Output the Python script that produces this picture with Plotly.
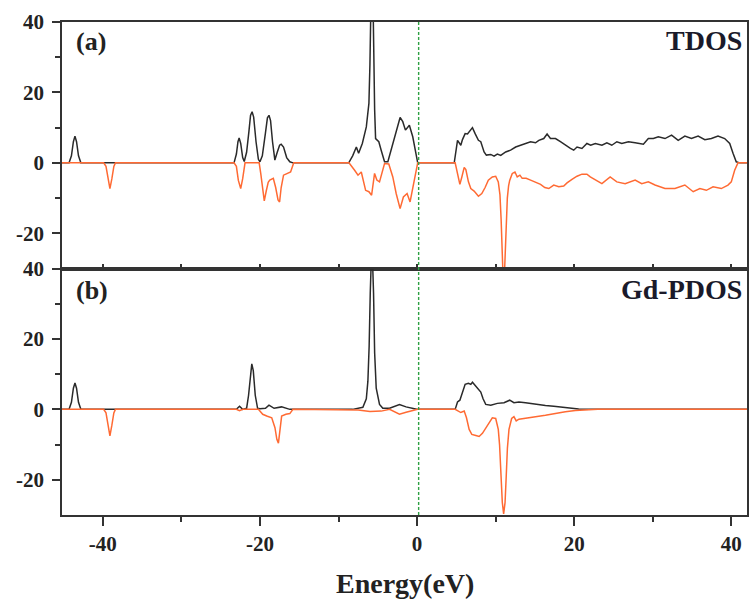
import plotly.graph_objects as go
from plotly.subplots import make_subplots

# ---------------- data ----------------
tdos_up_E = [-45.2, -44.3, -44.0, -43.75, -43.55, -43.35, -43.1, -42.8,
             -23.3, -23.0, -22.8, -22.65, -22.45, -22.2, -22.0, -21.7, -21.4, -21.2, -21.0, -20.8, -20.5, -20.2,
             -20.0, -19.7, -19.3, -19.05, -18.85, -18.65, -18.4, -18.1, -17.8, -17.5, -17.3, -17.0, -16.6, -16.2, -15.8,
             -8.7, -8.2, -7.73, -7.44, -6.97, -6.46, -6.13, -6.0, -5.9, -5.75, -5.6, -5.5, -5.4, -5.28,
             -4.87, -4.57, -4.14, -3.72, -3.09, -2.66, -2.16, -1.82, -1.48, -0.98, -0.55, 0.08,
             4.73, 5.15, 5.36, 5.57, 5.78, 6.12, 6.42, 6.72, 7.05, 7.39, 7.81, 8.11, 8.53, 8.82, 9.38, 9.8,
             10.22, 10.65, 11.28, 11.91, 12.55, 13.18, 13.81, 14.45, 15.08, 15.5, 16.13, 16.55, 16.98, 17.62,
             18.25, 18.88, 19.52, 19.94, 20.36, 20.99, 21.62, 22.1, 22.69, 23.53, 24.16, 24.79, 25.43, 26.06,
             26.91, 27.76, 28.81, 29.44, 30.08, 30.71, 31.56, 32.4, 33.24, 34.09, 34.93, 35.78, 36.63, 37.47,
             38.31, 39.16, 39.8, 40.22, 40.63, 41.06, 42.0]
tdos_up_V = [0, 0, 2.0, 6.0, 7.6, 6.0, 2.0, 0,
             0, 2.5, 6.0, 7.1, 5.5, 1.5, 0.4, 3.0, 9.0, 13.5, 14.5, 13.0, 6.0, 1.0,
             0.3, 2.0, 8.5, 12.8, 13.5, 12.0, 6.0, 0.8, 3.0, 5.0, 5.3, 4.5, 1.5, 0.3, 0,
             0, 2.0, 4.5, 2.7, 5.5, 10.2, 16.9, 28, 45, 62, 45, 28, 15, 6.9,
             6.0, 3.6, 0.3, 0.3, 5.5, 8.4, 12.9, 11.7, 9.3, 10.7, 7.4, 0,
             0, 6.4, 5.5, 5.0, 6.6, 8.3, 8.2, 9.1, 10.0, 8.3, 6.4, 6.0, 3.1, 2.2, 2.4, 1.9,
             2.5, 2.1, 3.1, 3.6, 4.5, 5.0, 5.5, 6.0, 5.7, 6.4, 6.9, 8.2, 6.9, 6.9,
             6.0, 5.0, 4.1, 3.6, 4.5, 4.1, 5.5, 5.0, 5.5, 5.0, 5.7, 5.0, 6.0, 5.5,
             6.0, 5.7, 5.3, 6.9, 6.9, 7.4, 6.9, 7.9, 6.4, 7.6, 6.9, 7.6, 6.6, 6.9,
             7.6, 6.9, 5.5, 2.7, 0.3, 0, 0]

tdos_dn_E = [-45.2, -39.9, -39.6, -39.35, -39.1, -38.85, -38.6, -38.4,
             -23.3, -23.0, -22.75, -22.45, -22.2, -21.9, -20.1, -19.9, -19.65, -19.45, -19.2, -18.95, -18.75,
             -18.3, -18.0, -17.7, -17.5, -17.3, -17.0, -16.6, -16.1, -15.7,
             -8.67, -7.95, -7.52, -7.1, -6.55, -6.13, -5.79, -5.41, -5.12, -4.78, -4.44, -4.14, -3.6,
             -3.09, -2.66, -2.16, -1.74, -1.27, -0.89, -0.55, 0.08,
             4.85, 5.15, 5.45, 5.7, 6.0, 6.21, 6.54, 6.84, 7.26, 7.81, 8.24, 8.66, 9.07, 9.58, 10.01, 10.34,
             10.55, 10.7, 10.85, 11.0, 11.15, 11.3, 11.49, 11.65, 11.79, 12.12, 12.46, 12.75, 13.09, 13.38,
             13.89, 14.45, 15.08,
             15.72, 16.26, 16.77, 17.4, 18.04, 18.67, 19.09, 19.72, 20.36, 20.99, 21.62, 22.05, 22.69, 23.53,
             24.58, 25.43, 26.49, 27.76, 28.6, 29.44, 30.29, 31.56, 32.83, 34.09, 35.15, 36.0, 36.83, 37.68,
             38.73, 39.58, 40.0, 40.43, 40.85, 42.0]
tdos_dn_V = [0, 0, -1.0, -4.5, -7.3, -4.5, -1.0, 0,
             0, -1.0, -5.0, -7.3, -4.5, 0, 0, -3.0, -8.5, -10.8, -8.0, -5.5, -4.9,
             -4.4, -7.0, -10.5, -11.1, -7.0, -3.5, -3.0, -2.6, 0,
             0, -2.1, -3.5, -2.6, -7.8, -8.2, -9.2, -3.0, -4.9, -5.4, -2.6, -0.2, -0.3,
             -4.0, -8.7, -13.0, -9.7, -8.7, -11.1, -6.8, 0,
             0, -3.0, -6.1, -4.0, -1.3, -1.9, -5.4, -7.3, -8.0, -9.5, -8.7, -7.0, -4.9, -4.0, -3.8, -5.4,
             -9.0, -16.0, -27.0, -36.0, -30.0, -18.0, -10.0, -6.5, -5.0, -3.0, -2.6, -4.0, -3.5, -4.4,
             -4.4, -4.9, -5.4,
             -6.1, -7.0, -7.3, -6.3, -6.8, -6.6, -5.7, -4.7, -3.8, -3.2, -3.2, -4.0, -4.9, -5.9,
             -4.0, -5.4, -5.9, -4.9, -5.9, -5.4, -6.3, -7.3, -7.3, -6.3, -8.2, -7.3, -7.8, -6.8,
             -7.3, -6.3, -5.4, -2.1, 0, 0]

gd_up_E = [-45.2, -44.3, -44.0, -43.75, -43.55, -43.35, -43.1, -42.8,
           -23.0, -22.6, -22.2, -21.7, -21.45, -21.2, -21.04, -20.85, -20.6, -20.3, -20.0, -19.3, -18.85,
           -18.2, -17.25, -16.2,
           -8.2, -6.9, -6.46, -6.26, -6.1, -5.96, -5.75, -5.54, -5.4, -5.2, -4.78, -4.36, -3.5, -2.24, -1.4,
           -0.34, 0.08,
           4.85, 5.15, 5.45, 5.78, 6.12, 6.54, 6.84, 7.05, 7.48, 7.81, 8.11, 8.4, 8.74, 9.38, 10.22, 11.07,
           11.79, 12.33, 12.97, 13.81, 14.65, 15.5, 16.34, 17.4, 18.46, 19.52, 20.57, 28.0, 30.0, 42.0]
gd_up_V = [0, 0, 2.0, 6.0, 7.5, 6.0, 2.0, 0,
           0, 0.9, 0, 0.3, 4.0, 11.0, 12.9, 11.0, 4.0, 0.3, 0.2, 0.3, 1.2,
           0.3, 0.7, 0,
           0, 0.6, 3.0, 8.0, 18.0, 33, 48, 33, 16.0, 6.0, 1.4, 0.3, 0.3, 1.4, 0.7,
           0.2, 0,
           0, 2.1, 2.6, 4.7, 7.1, 7.4, 7.1, 7.7, 6.6, 5.7, 4.9, 3.0, 1.4, 1.2, 1.7, 1.9,
           2.6, 1.9, 2.1, 1.9, 1.6, 1.4, 1.1, 0.9, 0.7, 0.3, 0.1, 0.05, 0, 0]

gd_dn_E = [-45.2, -39.9, -39.6, -39.35, -39.1, -38.85, -38.6, -38.4,
           -23.0, -22.6, -22.2, -20.2, -19.65, -19.14, -18.5, -18.09, -17.85, -17.65, -17.45, -17.24,
           -16.7, -16.2, -15.8,
           -8.16, -7.5, -6.0, -5.0, -4.57, -3.5, -2.24, -1.4, -0.3, 0.08,
           4.85, 5.27, 5.57, 6.0, 6.29, 6.63, 6.97, 7.48, 7.9, 8.32, 8.74, 9.16, 9.58, 10.01, 10.34,
           10.5, 10.65, 10.85, 11.02, 11.2, 11.35, 11.5, 11.7, 12.04, 12.33, 12.62, 12.97, 13.81, 15.08, 16.34,
           17.62, 18.88, 20.15, 21.42, 23.0, 42.0]
gd_dn_V = [0, 0, -1.0, -4.5, -7.5, -4.5, -1.0, 0,
           0, -0.4, 0, 0, -1.4, -1.9, -2.4, -5.2, -8.5, -9.6, -5.2, -1.9,
           -1.4, -1.2, 0,
           0, -0.2, -0.6, -0.6, -0.5, 0, -1.4, -0.8, -0.3, 0,
           0, -0.5, -0.9, -0.5, -2.4, -5.7, -7.1, -7.4, -7.7, -6.8, -5.2, -3.6, -2.4, -2.6, -5.7,
           -10.0, -18.0, -26.4, -29.7, -26.5, -19.0, -11.0, -5.7, -2.6, -2.1, -3.3, -2.8, -2.6, -2.1, -1.7,
           -1.1, -0.7, -0.3, -0.1, 0, 0]

x_ticks = [-40, -20, 0, 20, 40]
x_ticktext = ["-40", "-20", "0", "20", "40"]
y_ticks = [-20, 0, 20, 40]
y_ticktext = ["-20", "0", "20", "40"]
fermi_E = 0.2
panel_labels = ["(a)", "(b)"]
panel_titles = ["TDOS", "Gd-PDOS"]

# ---------------- styles ----------------
BLACK = "#2a2a2a"
ORANGE = "#ff6a33"
GREEN = "#2ea043"
AX = "#333333"
FONT = "Liberation Serif"

fig = make_subplots(rows=2, cols=1, shared_xaxes=True, vertical_spacing=0.0)

for row, (ue, uv, de, dv) in enumerate([(tdos_up_E, tdos_up_V, tdos_dn_E, tdos_dn_V),
                                        (gd_up_E, gd_up_V, gd_dn_E, gd_dn_V)], start=1):
    fig.add_trace(go.Scatter(x=ue, y=uv, mode="lines",
                             line=dict(color=BLACK, width=1.5),
                             showlegend=False), row=row, col=1)
    fig.add_trace(go.Scatter(x=de, y=dv, mode="lines",
                             line=dict(color=ORANGE, width=1.5),
                             showlegend=False), row=row, col=1)

# Fermi level line across both panels
fig.add_shape(type="line", xref="x", yref="paper", x0=fermi_E, x1=fermi_E, y0=0, y1=1,
              line=dict(color=GREEN, width=1.4, dash="3px,2px"), layer="above")

tickfont = dict(family=FONT, size=21, color="#222", weight="bold")

fig.update_xaxes(range=[-45.2, 42], showline=True, linecolor=AX, linewidth=1.6, mirror=True,
                 showgrid=False, zeroline=False, tickvals=x_ticks, ticktext=x_ticktext,
                 tickcolor=AX, tickwidth=1.5,
                 minor=dict(tickvals=[-30, -10, 10, 30], ticklen=5, tickcolor=AX, tickwidth=1.5,
                            ticks="outside", showgrid=False))
fig.update_xaxes(ticks="inside", ticklen=5, showticklabels=False,
                 minor=dict(ticks="inside"), row=1, col=1)
fig.update_xaxes(ticks="outside", ticklen=9, showticklabels=True, tickfont=tickfont, row=2, col=1)

fig.update_yaxes(range=[-30, 40], showline=True, linecolor=AX, linewidth=1.6, mirror=True,
                 showgrid=False, zeroline=False, tickvals=y_ticks, ticktext=y_ticktext,
                 ticks="outside", ticklen=8, tickcolor=AX, tickwidth=1.5, ticklabelstandoff=4,
                 tickfont=tickfont,
                 minor=dict(tickvals=[-10, 10, 30], ticklen=5, tickcolor=AX, tickwidth=1.5,
                            ticks="outside", showgrid=False))

annots = []
for i, (lab, ttl) in enumerate(zip(panel_labels, panel_titles)):
    ytop = [0.998, 0.492][i]
    annots.append(dict(text=f"<b>{lab}</b>", xref="paper", yref="paper", x=0.018, y=ytop - 0.004,
                       xanchor="left", yanchor="top", showarrow=False,
                       font=dict(family=FONT, size=26, color="#222")))
    annots.append(dict(text=f"<b>{ttl}</b>", xref="paper", yref="paper", x=0.995, y=ytop,
                       xanchor="right", yanchor="top", showarrow=False,
                       font=dict(family=FONT, size=28, color="#1a1a2a")))
annots.append(dict(text="<b>Energy(eV)</b>", xref="paper", yref="paper", x=0.5, y=-0.138,
                   xanchor="center", yanchor="middle", showarrow=False,
                   font=dict(family=FONT, size=28, color="#222")))

fig.update_layout(width=750, height=605, margin=dict(l=62, r=1, t=22, b=90),
                  plot_bgcolor="white", paper_bgcolor="white", annotations=annots,
                  showlegend=False)

fig.write_html("out.html", config={"displayModeBar": False},
               post_script="document.body.style.margin='0';document.body.style.overflow='hidden';")
